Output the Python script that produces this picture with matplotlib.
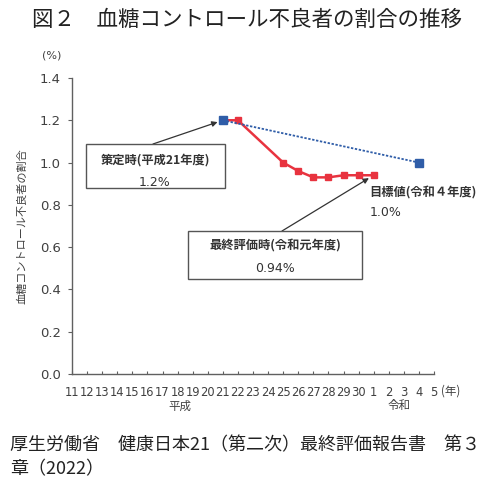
import matplotlib
matplotlib.use("Agg")
import matplotlib.pyplot as plt
from matplotlib.patches import Rectangle

plt.rcParams['font.family'] = ['DejaVu Sans', 'Noto Sans CJK JP']

# ---- data ----
categories = [f"H{i}" for i in range(11, 31)] + [f"R{i}" for i in range(1, 6)]
tick_labels = [str(i) for i in range(11, 31)] + [str(i) for i in range(1, 6)]

actual_years = ["H21", "H22", "H25", "H26", "H27", "H28", "H29", "H30", "R1"]
actual_values = [1.20, 1.20, 1.00, 0.96, 0.93, 0.93, 0.94, 0.94, 0.94]

target_years = ["H21", "R4"]
target_values = [1.20, 1.00]

yticks = [0.0, 0.2, 0.4, 0.6, 0.8, 1.0, 1.2, 1.4]

title = "図２　血糖コントロール不良者の割合の推移"
ylabel = "血糖コントロール不良者の割合"
source_lines = ["厚生労働省　健康日本21（第二次）最終評価報告書　第３", "章（2022）"]

# ---- figure ----
W, H = 500, 488
fig = plt.figure(figsize=(W / 100, H / 100), dpi=100)
fig.patch.set_facecolor("white")


def px(x, y):
    return (x / W, 1 - y / H)


left, right, top, bottom = 72, 434, 78, 374
ax = fig.add_axes([left / W, 1 - bottom / H, (right - left) / W, (bottom - top) / H])

pos = {c: i for i, c in enumerate(categories)}
ax_x = [pos[c] for c in actual_years]
tg_x = [pos[c] for c in target_years]

red = "#E8333F"
blue = "#2F5DA8"
ax.plot(ax_x, actual_values, color=red, lw=1.8, marker="s", ms=4.6,
        mfc=red, mec=red, zorder=3)
ax.plot(tg_x, target_values, color=blue, lw=1.3, ls=(0, (1.3, 0.9)), marker="s",
        ms=5.6, mfc=blue, mec=blue, zorder=4)

ax.set_xlim(0, len(categories) - 1)
ax.set_ylim(0, 1.4)
ax.set_xticks(range(len(categories)))
ax.set_xticklabels(tick_labels, fontsize=8.3, color="#404040")
ax.set_yticks(yticks)
ax.set_yticklabels([f"{v:.1f}" for v in yticks], fontsize=9.5, color="#404040")
ax.tick_params(axis="x", direction="in", length=2.5, width=0.8, color="#606060", pad=9)
ax.tick_params(axis="y", direction="out", length=3, width=0.8, color="#606060", pad=5)
for s in ["top", "right"]:
    ax.spines[s].set_visible(False)
for s in ["left", "bottom"]:
    ax.spines[s].set_color("#606060")
    ax.spines[s].set_linewidth(1.0)

# ---- texts ----
cjk = ['Noto Sans CJK JP', 'DejaVu Sans']
fig.text(*px(247, 20), title, fontsize=15.5, family=cjk, ha="center", va="center", color="#222222")
fig.text(*px(52, 55), "(%)", fontsize=8, ha="center", va="center", color="#404040")
fig.text(*px(22, 226), ylabel, fontsize=8, family=cjk, rotation=90, ha="center", va="center", color="#404040")
fig.text(*px(451, 391), "(年)", fontsize=8.3, family=cjk, ha="center", va="center", color="#404040")
fig.text(*px(180, 406), "平成", fontsize=8.3, family=cjk, ha="center", va="center", color="#404040")
fig.text(*px(399, 406), "令和", fontsize=8.3, family=cjk, ha="center", va="center", color="#404040")
fig.text(*px(10, 445), source_lines[0], fontsize=13, family=cjk, ha="left", va="center", color="#222222")
fig.text(*px(10, 469), source_lines[1], fontsize=13, family=cjk, ha="left", va="center", color="#222222")

# annotation boxes
def box(x0, y0, x1, y1):
    r = Rectangle(px(x0, y1), (x1 - x0) / W, (y1 - y0) / H, transform=fig.transFigure,
                  fill=True, facecolor="white", edgecolor="#555555", lw=1.0, zorder=5)
    fig.patches.append(r)

box(86, 144, 225, 188)
fig.text(*px(155, 160), "策定時(平成21年度)", fontsize=8.8, family=cjk, weight="bold",
         ha="center", va="center", color="#333333", zorder=6)
fig.text(*px(155, 182), "1.2%", fontsize=9, ha="center", va="center", color="#333333", zorder=6)

box(188, 231, 362, 279)
fig.text(*px(275, 246), "最終評価時(令和元年度)", fontsize=8.8, family=cjk, weight="bold",
         ha="center", va="center", color="#333333", zorder=6)
fig.text(*px(275, 268), "0.94%", fontsize=9, ha="center", va="center", color="#333333", zorder=6)

fig.text(*px(369, 193), "目標値(令和４年度)", fontsize=8.8, family=cjk, weight="bold",
         ha="left", va="center", color="#333333")
fig.text(*px(370, 213), "1.0%", fontsize=9, ha="left", va="center", color="#333333")

arrowprops = dict(arrowstyle="-|>", color="#333333", lw=0.9, mutation_scale=8,
                  shrinkA=0, shrinkB=4)
ax.annotate("", xy=(pos["H21"], actual_values[0]), xycoords="data",
            xytext=px(153, 144), textcoords="figure fraction", arrowprops=arrowprops, zorder=5)
ax.annotate("", xy=(pos["R1"], actual_values[-1]), xycoords="data",
            xytext=px(282, 231), textcoords="figure fraction", arrowprops=arrowprops, zorder=5)

fig.savefig("out.png", dpi=100, facecolor="white")
